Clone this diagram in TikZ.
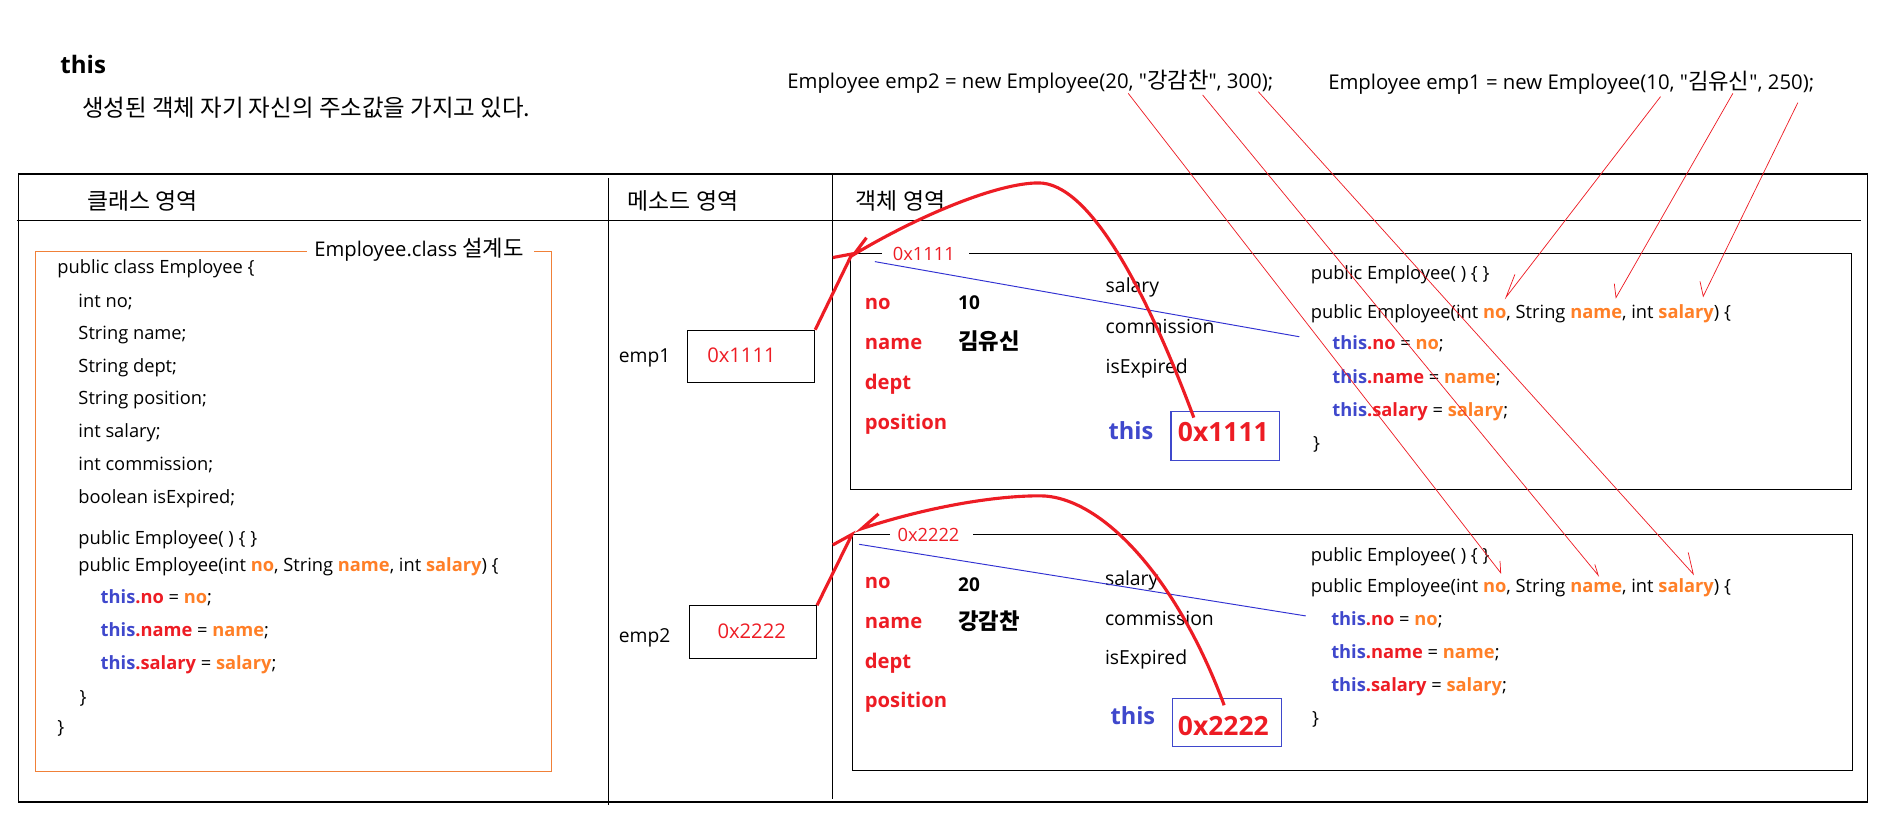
\documentclass[tikz,border=0pt]{standalone}
\usepackage{fontspec}
\setmainfont{Open Sans}[Ligatures=TeXOff]
\newfontfamily\krfont{Noto Sans CJK KR}[Ligatures=TeXOff]
\usetikzlibrary{arrows.meta}
\definecolor{myred}{RGB}{237,28,36}
\definecolor{myorange}{RGB}{255,127,39}
\definecolor{myblue}{RGB}{63,72,204}
\definecolor{boxorange}{RGB}{240,128,56}
\definecolor{lineblue}{RGB}{50,50,210}
\newcommand\krs[2]{{\krfont\fontsize{#1}{#1}\selectfont #2}}
\newcommand\kwthis{\textcolor{myblue}{\bfseries this}}
\newcommand\fldr[1]{\textcolor{myred}{\bfseries .#1}}
\newcommand\prmo[1]{\textcolor{myorange}{\bfseries #1}}
\begin{document}
\begin{tikzpicture}[x=1pt,y=-1pt,
  txt/.style={anchor=west, inner sep=0pt, text height=0.75em, text depth=0.2em, yshift=-2.5pt, font=\fontsize{16}{18}\selectfont},
  code/.style={txt, font=\fontsize{15.2}{17}\selectfont},
  stmt/.style={txt, font=\fontsize{16.9}{18}\selectfont},
  lbl/.style={txt, font=\fontsize{16.8}{18}\selectfont\bfseries, text=myred},
  val/.style={txt, font=\fontsize{15.8}{18}\selectfont\bfseries},
  fld/.style={txt, font=\fontsize{16.1}{18}\selectfont},
  big/.style={txt, font=\fontsize{22}{24}\selectfont\bfseries},
  border/.style={line width=0.9pt},
  thick arrow/.style={myred, line width=2.6pt},
  thin arrow/.style={myred, line width=0.6pt},
  blueline/.style={lineblue, line width=0.8pt}
]
\useasboundingbox (0,0) rectangle (1568,685.5);

% title
\node[big, font=\fontsize{20}{22}\selectfont\bfseries] (title) at (50,56) {this};
\node[txt] (subtitle) at (68,91.5) {\krs{19.5}{생성된 객체 자기 자신의 주소값을 가지고 있다.}};

% statements
\node[stmt] (st2) at (654,68.5) {Employee emp2 = new Employee(20, "\krs{18.5}{강감찬}", 300);};
\node[stmt] (st1) at (1103.5,69.5) {Employee emp1 = new Employee(10, "\krs{18.5}{김유신}", 250);};

% table
\draw[border] (15.5,144.6) rectangle (1551.4,666.4);
\draw[border] (14,183) -- (1546,183);
\draw[border] (506,148) -- (506,668.6);
\draw[border] (692,145) -- (692,664);
\node[txt] (h1) at (72.5,168.5) {\krs{19}{클래스 영역}};
\node[txt] (h2) at (521.5,168.5) {\krs{19}{메소드 영역}};
\node[txt] (h3) at (711,168.5) {\krs{19}{객체 영역}};

% class box
\draw[boxorange, line width=0.9pt] (255,209) -- (29.5,209) -- (29.5,641) -- (458.5,641) -- (458.5,209) -- (444,209);
\node[stmt, font=\fontsize{16.8}{18}\selectfont] (cbt) at (261,208) {Employee.class \krs{18.5}{설계도}};
\node[code] (c1) at (47.5,222) {public class Employee \{};
\node[code] (c2) at (65,250) {int no;};
\node[code] (c3) at (65,277) {String name;};
\node[code] (c4) at (65,304) {String dept;};
\node[code] (c5) at (65,331) {String position;};
\node[code] (c6) at (65,358.5) {int salary;};
\node[code] (c7) at (65,386) {int commission;};
\node[code] (c8) at (65,413) {boolean isExpired;};
\node[code] (c9) at (65,447) {public Employee( ) \{ \}};
\node[code] (c10) at (65,470) {public Employee(int \prmo{no}, String \prmo{name}, int \prmo{salary}) \{};
\node[code] (c11) at (83.5,496) {\kwthis\fldr{no} = \prmo{no};};
\node[code] (c12) at (83.5,524) {\kwthis\fldr{name} = \prmo{name};};
\node[code] (c13) at (83.5,551) {\kwthis\fldr{salary} = \prmo{salary};};
\node[code] (c14) at (66,579) {\}};
\node[code] (c15) at (47.5,604) {\}};

% method area
\node[txt] (emp1) at (514,296) {emp1};
\node[draw, border, minimum width=105.5pt, minimum height=43.7pt, inner sep=0pt, anchor=north west] (emp1box) at (571,274) {};
\node[txt, font=\fontsize{16.8}{18}\selectfont, text=myred] (emp1val) at (587.5,296) {0x1111};
\node[txt] (emp2) at (514,528.5) {emp2};
\node[draw, border, minimum width=105.5pt, minimum height=43.5pt, inner sep=0pt, anchor=north west] (emp2box) at (572.5,503) {};
\node[txt, font=\fontsize{16.8}{18}\selectfont, text=myred] (emp2val) at (596,525) {0x2222};

% object 1
\draw[border] (733,210.5) -- (707,210.5) -- (707,406.6) -- (1538.6,406.6) -- (1538.6,210.5) -- (805.4,210.5);
\node[txt, font=\fontsize{15.2}{18}\selectfont, text=myred] (o1t) at (741.7,211) {0x1111};
\node[lbl] (o1no) at (718.5,252) {no};
\node[lbl] (o1name) at (718.5,285) {name};
\node[lbl] (o1dept) at (718.5,318.6) {dept};
\node[lbl] (o1pos) at (718.5,351.6) {position};
\node[val] (o1v1) at (796,252) {10};
\node[val] (o1v2) at (796,285) {\krs{18.5}{김유신}};
\node[fld] (o1f1) at (918.6,238) {salary};
\node[fld] (o1f2) at (918.6,271.5) {commission};
\node[fld] (o1f3) at (918.6,305) {isExpired};
\node[big, text=myblue, font=\fontsize{19.6}{22}\selectfont\bfseries] (o1this) at (921,360) {this};
\node[draw=myblue, line width=0.9pt, minimum width=90pt, minimum height=41pt, inner sep=0pt, anchor=north west] (o1box) at (972.6,341.5) {};
\node[big, text=myred] (o1addr) at (978.6,362) {0x1111};
\node[code] (o1c1) at (1089,227) {public Employee( ) \{ \}};
\node[code] (o1c2) at (1089,259) {public Employee(int \prmo{no}, String \prmo{name}, int \prmo{salary}) \{};
\node[code] (o1c3) at (1107,285.5) {\kwthis\fldr{no} = \prmo{no};};
\node[code] (o1c4) at (1107,313) {\kwthis\fldr{name} = \prmo{name};};
\node[code] (o1c5) at (1107,340.5) {\kwthis\fldr{salary} = \prmo{salary};};
\node[code] (o1c6) at (1091,368.6) {\}};

% object 2
\draw[border] (739.5,444) -- (708,444) -- (708,640) -- (1539.6,640) -- (1539.6,444) -- (808.6,444);
\node[txt, font=\fontsize{15.2}{18}\selectfont, text=myred] (o2t) at (745.6,444.5) {0x2222};
\node[lbl] (o2no) at (718.5,484) {no};
\node[lbl] (o2name) at (718.5,517.4) {name};
\node[lbl] (o2dept) at (718.5,550) {dept};
\node[lbl] (o2pos) at (718.5,583) {position};
\node[val] (o2v1) at (796,486) {20};
\node[val] (o2v2) at (796,518) {\krs{18.5}{강감찬}};
\node[fld] (o2f1) at (918,481) {salary};
\node[fld] (o2f2) at (918,514.6) {commission};
\node[fld] (o2f3) at (918,547.3) {isExpired};
\node[big, text=myblue, font=\fontsize{19.6}{22}\selectfont\bfseries] (o2this) at (922.6,597) {this};
\node[draw=myblue, line width=0.9pt, minimum width=90.6pt, minimum height=40.2pt, inner sep=0pt, anchor=north west] (o2box) at (974,579.7) {};
\node[big, text=myred] (o2addr) at (978.6,605.5) {0x2222};
\node[code] (o2c1) at (1089,461) {public Employee( ) \{ \}};
\node[code] (o2c2) at (1089,487) {public Employee(int \prmo{no}, String \prmo{name}, int \prmo{salary}) \{};
\node[code] (o2c3) at (1106,514.6) {\kwthis\fldr{no} = \prmo{no};};
\node[code] (o2c4) at (1106,541.7) {\kwthis\fldr{name} = \prmo{name};};
\node[code] (o2c5) at (1106,569.4) {\kwthis\fldr{salary} = \prmo{salary};};
\node[code] (o2c6) at (1090,596.6) {\}};

% blue lines
\coordinate (b1s) at (727,217.4);
\coordinate (b1e) at (1079.6,279.8);
\coordinate (b2s) at (714,452.3);
\coordinate (b2e) at (1085,511.8);
\draw[blueline] (b1s) -- (b1e);
\draw[blueline] (b2s) -- (b2e);

% thick arrows
\coordinate (tip1) at (708,211);
\coordinate (tip2) at (708,444);
\coordinate (ctip1) at (709.5,211.5);
\coordinate (ctip2) at (716,439.3);
\coordinate (cs1) at (992,347);
\coordinate (cs2) at (1017.2,586);
\draw[thick arrow] (emp1box.north east) -- (tip1) -- ++(-16,3);
\draw[thick arrow] (emp2box.north east) -- (tip2) -- ++(-16,8.8);
\draw[thick arrow] (cs1) .. controls (952,240) and (905,152) .. (863,152) .. controls (828,152) and (762,180) .. (ctip1) -- ++(10.5,-14);
\draw[thick arrow] (cs2) .. controls (978,480) and (915,412) .. (864,412) .. controls (820,412) and (762,424) .. (ctip2) -- ++(14,-12.3);

% thin arrows (emp1 statement)
\coordinate (a1s) at (1379.8,80.3);
\coordinate (a1e) at (1251.4,247);
\coordinate (a2s) at (1439.9,77.6);
\coordinate (a2e) at (1342.8,247.3);
\coordinate (a3s) at (1493.9,85.3);
\coordinate (a3e) at (1415.3,246.2);
\draw[thin arrow] (a1s) -- (a1e) -- ++(7.4,-19);
\draw[thin arrow] (a2s) -- (a2e) -- ++(-1.4,-11.6);
\draw[thin arrow] (a3s) -- (a3e) -- ++(-2.7,-12.4);
% thin arrows (emp2 statement)
\coordinate (d1s) at (937.5,77.6);
\coordinate (d1e) at (1247,476);
\coordinate (d2s) at (999.3,78.9);
\coordinate (d2e) at (1328,478);
\coordinate (d3s) at (1045.6,76.2);
\coordinate (d3e) at (1407,477);
\draw[thin arrow] (d1s) -- (d1e) -- ++(-0.6,-10);
\draw[thin arrow] (d2s) -- (d2e) -- ++(-2.8,-9);
\draw[thin arrow] (d3s) -- (d3e) -- ++(-4.2,-18);
\end{tikzpicture}
\end{document}
